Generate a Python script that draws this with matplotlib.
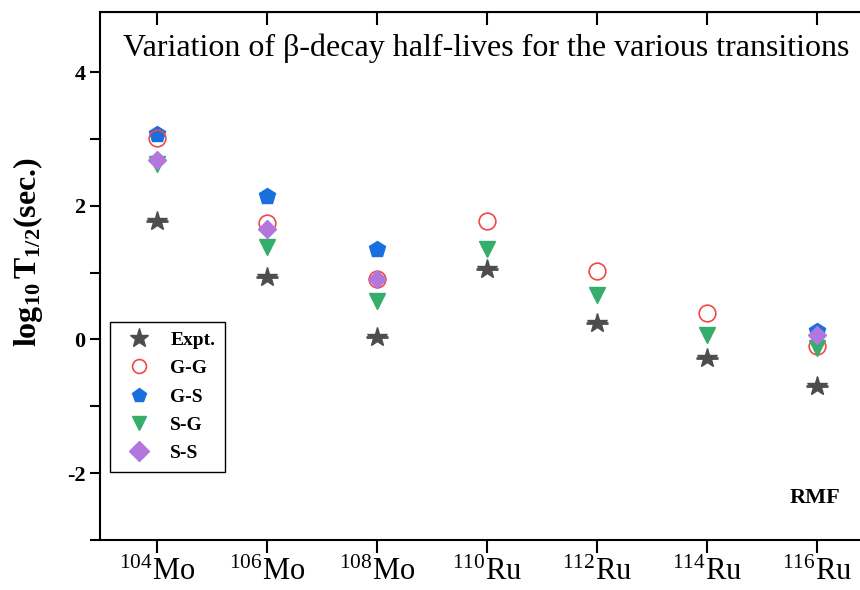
import matplotlib
matplotlib.use("Agg")
import matplotlib.pyplot as plt
import numpy as np

plt.rcParams['font.family'] = ['Liberation Serif', 'DejaVu Serif']
plt.rcParams['mathtext.fontset'] = 'custom'
plt.rcParams['mathtext.rm'] = 'Liberation Serif'
plt.rcParams['mathtext.it'] = 'Liberation Serif:italic'
plt.rcParams['mathtext.bf'] = 'Liberation Serif:bold'
plt.rcParams['axes.unicode_minus'] = False

nuclei = ["104Mo", "106Mo", "108Mo", "110Ru", "112Ru", "114Ru", "116Ru"]
tick_labels = [r"$^{104}$Mo", r"$^{106}$Mo", r"$^{108}$Mo", r"$^{110}$Ru",
               r"$^{112}$Ru", r"$^{114}$Ru", r"$^{116}$Ru"]
expt = [1.78, 0.94, 0.03, 1.06, 0.25, -0.28, -0.69]
gg = [3.01, 1.75, 0.90, 1.78, 1.03, 0.39, -0.09]
gs = [3.07, 2.14, 1.36, None, None, None, 0.13]
sg = [2.63, 1.38, 0.58, 1.36, 0.67, 0.06, -0.12]
ss = [2.68, 1.65, 0.90, None, None, None, 0.07]

def xy(vals):
    xs = [i for i, v in enumerate(vals) if v is not None]
    ys = [v for v in vals if v is not None]
    return xs, ys

fig = plt.figure(figsize=(8.6, 5.9), dpi=100)
ax = fig.add_axes([100/860, 50/590, 760/860, 528/590])

x = np.arange(len(nuclei))
ax.plot(*xy(gg), linestyle='none', marker='o', ms=12, mfc='none', mec='#f04848', mew=1.2, label='G-G', zorder=3)
ax.plot(*xy(gs), linestyle='none', marker='p', ms=12, color='#1a6fdf', label='G-S', zorder=2)
ax.plot(*xy(sg), linestyle='none', marker='v', ms=11, color='#37ad6b', label='S-G', zorder=4)
ax.plot(*xy(ss), linestyle='none', marker='D', ms=9, color='#b177de', label='S-S', zorder=5)
ax.plot(x, expt, linestyle='none', marker='*', ms=15, color='#4d4d4d', label='Expt.', zorder=6)
ax.plot(x, expt, linestyle='none', marker='_', ms=16, mew=2, color='#4d4d4d', zorder=6)

ax.set_xlim(-0.518, 6.39)
ax.set_ylim(-3.0, 4.9)
ax.set_xticks(x)
ax.set_xticklabels(tick_labels, fontsize=22)
ax.set_yticks([-2, 0, 2, 4])
ax.set_yticks([-3, -1, 1, 3], minor=True)
ax.tick_params(axis='y', which='both', direction='out', length=7, width=1.5, labelsize=16)
ax.tick_params(axis='x', which='major', direction='out', length=9, width=1.5, pad=4)
for lab in ax.get_yticklabels():
    lab.set_fontweight('bold')
ax.spines['right'].set_visible(False)
for s in ['left', 'bottom', 'top']:
    ax.spines[s].set_linewidth(1.5)

# inward ticks on top
axt = ax.secondary_xaxis('top')
axt.set_xticks(x)
axt.set_xticklabels([])
axt.tick_params(direction='in', length=9, width=1.5)

ax.set_ylabel(r'$\mathbf{log_{10}\,T_{1/2}}$' + '(sec.)', fontsize=23, fontweight='bold')
ax.yaxis.set_label_coords(-0.072, 0.545)

ax.text(0.508, 0.932, 'Variation of β-decay half-lives for the various transitions',
        transform=ax.transAxes, ha='center', va='center', fontsize=23)
ax.text(5.98, -2.37, 'RMF', ha='center', va='center', fontsize=16, fontweight='bold')

handles, labels = ax.get_legend_handles_labels()
order = [4, 0, 1, 2, 3]
leg = ax.legend([handles[i] for i in order], [labels[i] for i in order],
                loc='lower left', bbox_to_anchor=(0.013, 0.129), fancybox=False,
                edgecolor='black', framealpha=1, prop={'weight': 'bold', 'size': 14},
                borderpad=0.5, labelspacing=0.55, handletextpad=0.6, borderaxespad=0)
leg.get_frame().set_linewidth(1.0)
for h in leg.legend_handles:
    h.set_markersize(10)
leg.legend_handles[0].set_markersize(14)

fig.savefig('out.png', dpi=100)
